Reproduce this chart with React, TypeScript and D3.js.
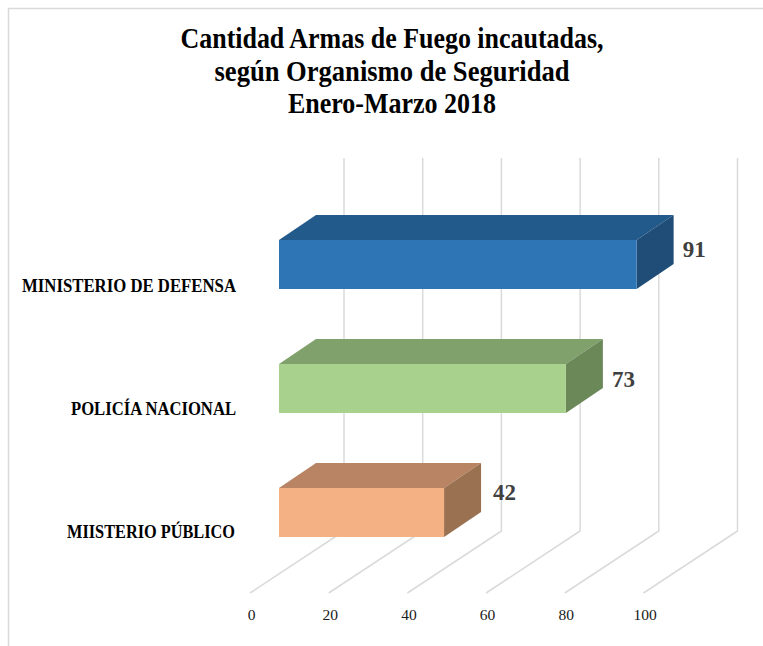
import React from "react";
import * as d3 from "d3";

const categories = ["MINISTERIO DE DEFENSA", "POLICÍA NACIONAL", "MIISTERIO PÚBLICO"];
const values = [91, 73, 42];
const ticks = [0, 20, 40, 60, 80, 100];
const titleLines = ["Cantidad Armas de Fuego incautadas,", "según Organismo de Seguridad", "Enero-Marzo 2018"];
const frontColors = ["#2E75B6", "#A9D18E", "#F4B183"];
const topColors = ["#235A8C", "#80A16C", "#B98463"];
const sideColors = ["#1F4D78", "#6B8859", "#9B7251"];

const x = d3.scaleLinear().domain([0, 100]).range([279, 672]);
const y = d3.scaleBand<string>().domain(categories).range([202.5, 574.5]).paddingInner(75 / 124).paddingOuter(75 / 248);
const floor = d3.scaleLinear().domain([0, 100]).range([250, 643.5]);
const DX = 37, DY = 25;
const serif = "'Liberation Serif', serif";
const titleW = [423, 355, 208];
const titleBase = [48, 81, 113];
const labelBase = [292, 415, 538];
const labelStart = [22, 71, 67];
const labelW = [214, 165, 168];
const valueOffsetX = [20.5, 20.5, 23.5];
const valueBase = [257, 387, 500];

export default function App() {
  const bw = y.bandwidth();
  return (
    <svg width={763} height={646} style={{ position: "absolute", left: 0, top: 0, background: "#fff" }}>
      <path d="M8.5 646V8.5H763" fill="none" stroke="#D9D9D9" strokeWidth={1.5} />
      {titleLines.map((t, i) => (
        <text key={t} x={392} y={titleBase[i]} textAnchor="middle" fontFamily={serif} fontWeight={700} fontSize={30}
          textLength={titleW[i]} lengthAdjust="spacingAndGlyphs" fill="#000">{t}</text>
      ))}
      {ticks.map(t => (
        <path key={t} d={`M${floor(t)} 593L${floor(t) + 94} 531V158`} fill="none" stroke="#DADADA" strokeWidth={1.5} />
      ))}
      {ticks.map(t => (
        <text key={t} x={floor(t) + 1.5} y={620} textAnchor="middle" fontFamily={serif} fontSize={15.5} fill="#1A1A1A">{t}</text>
      ))}
      {categories.map((c, i) => {
        const x0 = x(0), x1 = x(values[i]), y0 = y(c)!, y1 = y0 + bw;
        return (
          <g key={c}>
            <path d={`M${x0} ${y0}L${x0 + DX} ${y0 - DY}H${x1 + DX}L${x1} ${y0}Z`} fill={topColors[i]} />
            <path d={`M${x1} ${y0}L${x1 + DX} ${y0 - DY}V${y1 - DY}L${x1} ${y1}Z`} fill={sideColors[i]} />
            <rect x={x0} y={y0} width={x1 - x0} height={bw} fill={frontColors[i]} />
            <text x={x1 + DX + valueOffsetX[i]} y={valueBase[i]} textAnchor="middle" fontFamily={serif} fontWeight={700} fontSize={23} fill="#404040">{values[i]}</text>
            <text x={labelStart[i]} y={labelBase[i]} fontFamily={serif} fontWeight={700} fontSize={19.5}
              textLength={labelW[i]} lengthAdjust="spacingAndGlyphs" fill="#000">{c}</text>
          </g>
        );
      })}
    </svg>
  );
}
